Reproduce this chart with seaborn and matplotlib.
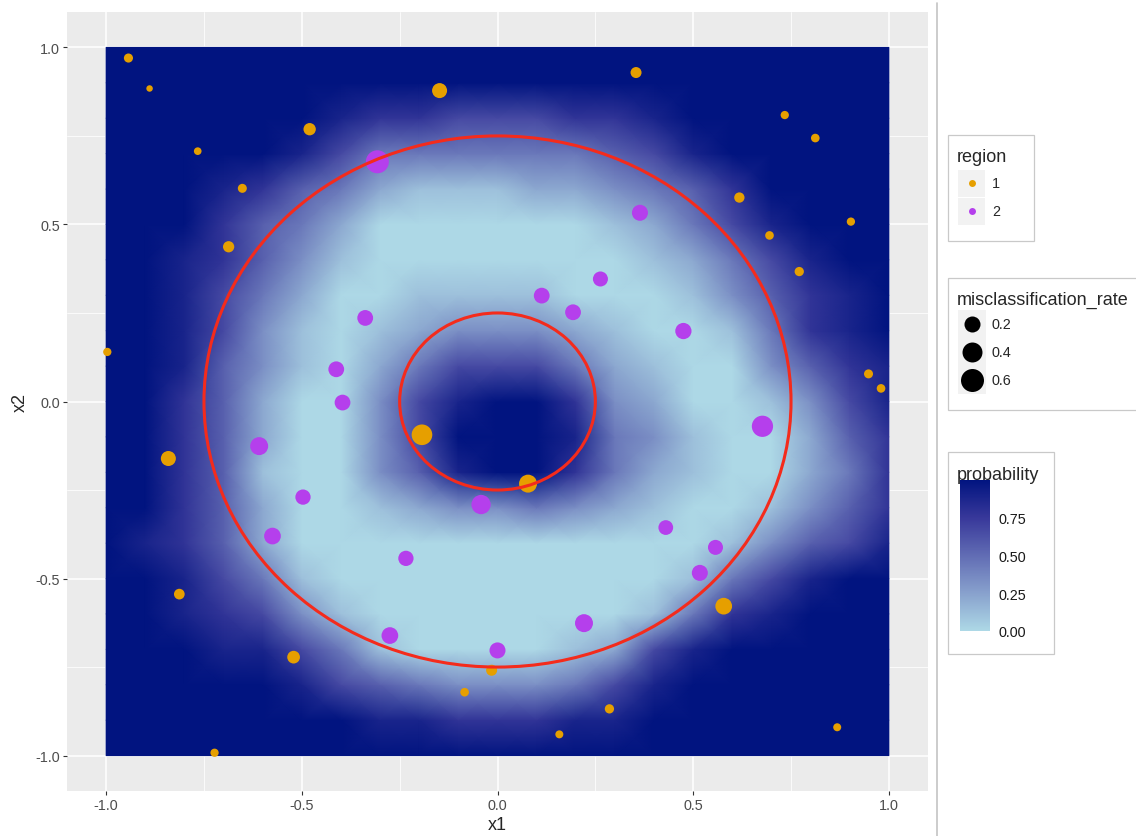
import numpy as np
import pandas as pd
import seaborn as sns
import matplotlib.pyplot as plt
from matplotlib.colors import LinearSegmentedColormap, Normalize
from matplotlib.cm import ScalarMappable
from matplotlib.patches import Circle, Rectangle

# probability surface on a 0.1 grid
grid_x = [-1.0, -0.9, -0.8, -0.7, -0.6, -0.5, -0.4, -0.3, -0.2, -0.1, 0.0,
          0.1, 0.2, 0.3, 0.4, 0.5, 0.6, 0.7, 0.8, 0.9, 1.0]
grid_y = grid_x[::-1]  # rows below go from x2 = 1.0 down to x2 = -1.0
# one string per row, digit d means probability d/9
prob_rows = [
    "999999999999999999999",
    "999999999999999999999",
    "999999877666778999999",
    "999998644444456899999",
    "999875421112234579999",
    "999754200000012468999",
    "998753100000001246899",
    "998642001111000135789",
    "998631012333210014789",
    "998531024666421003578",
    "997520036899732001368",
    "997520036999843100257",
    "997510035899742100247",
    "997520012334321001357",
    "987520000000000013568",
    "998641000000000146899",
    "998763100000001478999",
    "999886410000126899999",
    "999998654333468999999",
    "999999988777889999999",
    "999999999999999999999",
]

# region 1 points (orange)
r1_x = [-0.943, -0.889, -0.148, 0.354, -0.480, -0.766, -0.652, -0.687, 0.734, 0.812,
        0.618, 0.695, 0.903, 0.771, -0.997, 0.948, 0.980, -0.841, -0.193, 0.078,
        -0.813, 0.578, -0.521, -0.084, -0.015, 0.286, 0.158, -0.723, 0.868]
r1_y = [0.970, 0.884, 0.878, 0.929, 0.769, 0.707, 0.602, 0.437, 0.809, 0.744,
        0.576, 0.469, 0.508, 0.367, 0.140, 0.078, 0.037, -0.161, -0.094, -0.232,
        -0.544, -0.578, -0.722, -0.821, -0.759, -0.868, -0.940, -0.992, -0.920]
r1_rate = [0.015, 0.0, 0.16, 0.045, 0.075, 0.003, 0.014, 0.05, 0.007, 0.01,
           0.032, 0.01, 0.007, 0.017, 0.007, 0.014, 0.01, 0.16, 0.44, 0.29,
           0.039, 0.23, 0.085, 0.01, 0.045, 0.017, 0.005, 0.007, 0.005]

# region 2 points (purple)
r2_x = [-0.307, 0.364, 0.263, 0.113, 0.193, -0.338, 0.475, -0.412, -0.396, 0.677,
        -0.609, -0.497, -0.042, -0.575, 0.430, 0.557, -0.234, 0.517, 0.221, -0.275, 0.000]
r2_y = [0.677, 0.533, 0.346, 0.299, 0.252, 0.236, 0.199, 0.091, -0.003, -0.070,
        -0.126, -0.270, -0.291, -0.380, -0.356, -0.412, -0.443, -0.484, -0.626, -0.661, -0.703]
r2_rate = [0.60, 0.20, 0.16, 0.19, 0.19, 0.19, 0.21, 0.19, 0.19, 0.48,
           0.29, 0.17, 0.36, 0.23, 0.15, 0.16, 0.17, 0.20, 0.29, 0.23, 0.20]

circle_radii = [0.25, 0.75]
ticks = [-1.0, -0.5, 0.0, 0.5, 1.0]
tick_labels = ['-1.0', '-0.5', '0.0', '0.5', '1.0']
minor_ticks = [-0.75, -0.25, 0.25, 0.75]
legend_rates = [0.2, 0.4, 0.6]
cbar_ticks = [0.0, 0.25, 0.5, 0.75]
cbar_labels = ['0.00', '0.25', '0.50', '0.75']

region_colors = {1: '#E69F00', 2: '#B53FEC'}

df = pd.concat([
    pd.DataFrame({'x1': r1_x, 'x2': r1_y, 'misclassification_rate': r1_rate, 'region': 1}),
    pd.DataFrame({'x1': r2_x, 'x2': r2_y, 'misclassification_rate': r2_rate, 'region': 2}),
], ignore_index=True)

sns.set_theme(style='white')
plt.rcParams['font.family'] = ['Liberation Sans', 'DejaVu Sans']

W, H = 1136, 837
fig = plt.figure(figsize=(W / 100, H / 100), dpi=100)
ax = fig.add_axes([67 / W, 1 - 792 / H, (928 - 67) / W, (792 - 13) / H])
ax.set_facecolor('#EBEBEB')

# lightblue -> navy
cmap = LinearSegmentedColormap.from_list(
    'prob', [(0, '#ADD8E6'), (0.25, '#88A1CD'), (0.5, '#616CB4'), (0.75, '#38389A'), (1, '#011480')])
norm = Normalize(0, 1)

prob = np.array([[int(c) for c in row] for row in prob_rows]) / 9.0
ax.pcolormesh(grid_x, grid_y[::-1], prob[::-1], shading='gouraud', cmap=cmap, norm=norm, zorder=1)


def diam_px(v):
    # ggplot area scale: diameter grows with sqrt(rate)
    return 6.5 + 21.3 * np.sqrt(v)


size_map = {v: (diam_px(v) * 0.72) ** 2 for v in df['misclassification_rate'].unique()}
sns.scatterplot(data=df, x='x1', y='x2', hue='region', size='misclassification_rate',
                sizes=size_map, palette=region_colors, linewidth=0, legend=False,
                ax=ax, zorder=3)

for r in circle_radii:
    ax.add_patch(Circle((0, 0), r, fill=False, ec='#F42B1C', lw=2.2, zorder=4))

ax.set_xlim(-1.1, 1.1)
ax.set_ylim(-1.1, 1.1)
ax.set_xticks(ticks)
ax.set_xticklabels(tick_labels)
ax.set_yticks(ticks)
ax.set_yticklabels(tick_labels)
ax.set_xticks(minor_ticks, minor=True)
ax.set_yticks(minor_ticks, minor=True)
ax.grid(which='major', color='white', lw=1.1)
ax.grid(which='minor', color='white', lw=0.55)
ax.set_axisbelow(True)
for s in ax.spines.values():
    s.set_visible(False)
ax.tick_params(which='major', length=3, width=0.8, color='#333333', labelcolor='#4D4D4D',
               labelsize=10.4, pad=2, bottom=True, left=True)
ax.tick_params(which='minor', length=0)
ax.set_xlabel('x1', fontsize=13, labelpad=3)
ax.set_ylabel('x2', fontsize=13, labelpad=5)

# overlay in pixel units for the legends
ov = fig.add_axes([0, 0, 1, 1], facecolor='none')
ov.set_xlim(0, W)
ov.set_ylim(H, 0)
ov.axis('off')

ov.plot([937, 937], [4, H], color='#C4C4C4', lw=1.2)

box = dict(fc='white', ec='#C9C9C9', lw=0.9)
key_fc = '#F2F2F2'

# region legend
ov.add_patch(Rectangle((948, 136), 86, 106, **box))
ov.text(957, 157, 'region', fontsize=13, va='center', ha='left')
for i, reg in enumerate([1, 2]):
    yc = 184 + 28 * i
    ov.add_patch(Rectangle((958, yc - 13.5), 27, 27, fc=key_fc, ec='none'))
    ov.plot([971.5], [yc], marker='o', ms=5, color=region_colors[reg], mec='none')
    ov.text(992, yc, str(reg), fontsize=10.4, va='center', ha='left')

# misclassification rate legend
ov.add_patch(Rectangle((948, 279), 200, 132, clip_on=False, **box))
ov.text(957, 300, 'misclassification_rate', fontsize=13, va='center', ha='left')
for i, v in enumerate(legend_rates):
    yc = 325 + 28 * i
    ov.add_patch(Rectangle((958, yc - 14), 28, 28, fc=key_fc, ec='none'))
    ov.plot([972], [yc], marker='o', ms=diam_px(v) * 0.72, color='black', mec='none')
    ov.text(991, yc, f'{v:.1f}', fontsize=10.4, va='center', ha='left')

# probability legend
ov.add_patch(Rectangle((948, 453), 106, 202, **box))
ov.text(957, 475, 'probability', fontsize=13, va='center', ha='left')
cax = fig.add_axes([960 / W, 1 - 632 / H, 30 / W, 151 / H])
cb = fig.colorbar(ScalarMappable(norm=norm, cmap=cmap), cax=cax)
cb.outline.set_visible(False)
cb.set_ticks(cbar_ticks)
cb.set_ticklabels(cbar_labels)
cax.tick_params(direction='in', color='white', length=5, width=0.8, left=True, right=True,
                labelsize=10.4, pad=6, labelcolor='#1A1A1A')

fig.savefig('out.png', dpi=100)
